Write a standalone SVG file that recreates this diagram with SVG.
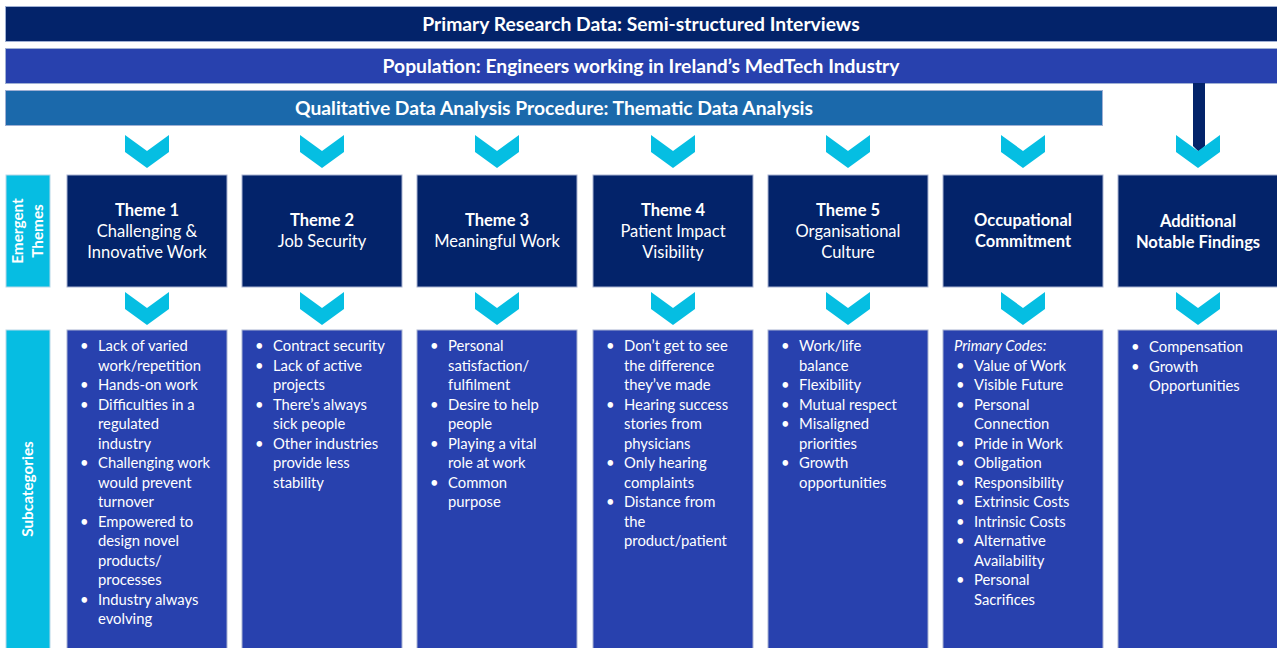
<svg xmlns="http://www.w3.org/2000/svg" xmlns:xlink="http://www.w3.org/1999/xlink" width="1277" height="648" viewBox="0 0 1277 648">
  <style>
    .bar { stroke: #9fb0d4; stroke-width: 1; }
    .theme { fill: #03236a; stroke: #aab4d2; stroke-width: 1; }
    .sub { fill: #2841ae; stroke: #aab4d2; stroke-width: 1; }
    .side { fill: #06bde2; stroke: #b8d8e8; stroke-width: 1; }
    .chev { fill: #05bee2; }
    text { font-family: Lato, "Open Sans", "Liberation Sans", sans-serif; fill: #ffffff; }
    .bartxt { font-size: 19.3px; font-weight: 700; text-anchor: middle; }
    .tb { font-size: 16.5px; font-weight: 700; text-anchor: middle; }
    .tr { font-size: 16.5px; font-weight: 400; text-anchor: middle; }
    .sidetxt { font-size: 15.3px; font-weight: 700; text-anchor: middle; }
    .li { font-size: 14.8px; font-weight: 400; }
    .it { font-size: 14.8px; font-style: italic; }
  </style>
  <defs>
    <polygon id="chevron" points="-22,0 0,16 22,0 22,17 0,33 -22,17"/>
  </defs>

  <!-- header bars -->
  <g id="primary-data">
    <rect class="bar" x="5.5" y="6.5" width="1272" height="35" fill="#03236a"/>
    <text class="bartxt" x="641" y="30.5">Primary Research Data: Semi-structured Interviews</text>
  </g>
  <g id="population">
    <rect class="bar" x="5.5" y="48.5" width="1272" height="35" fill="#2841ae"/>
    <text class="bartxt" x="641" y="72.5">Population: Engineers working in Ireland’s MedTech Industry</text>
  </g>
  <g id="procedure">
    <rect class="bar" x="5.5" y="90.5" width="1097" height="35" fill="#1b69ab"/>
    <text class="bartxt" x="554" y="114.5">Qualitative Data Analysis Procedure: Thematic Data Analysis</text>
  </g>

  <!-- row labels -->
  <g id="label-emergent">
    <rect class="side" x="6" y="175" width="44" height="112"/>
    <text class="sidetxt" transform="translate(28 231) rotate(-90)"><tspan x="0" y="-5">Emergent</tspan><tspan x="0" y="15">Themes</tspan></text>
  </g>
  <g id="label-subcategories">
    <rect class="side" x="6" y="330" width="44" height="320"/>
    <text class="sidetxt" transform="translate(28 489) rotate(-90)" x="0" y="5">Subcategories</text>
  </g>

  <!-- connectors: chevron arrows and the side feed from the population bar -->
  <g id="connectors">
    <polygon points="1193,83 1205,83 1205,146 1199,152 1193,146" fill="#03236a"/>
    <use xlink:href="#chevron" class="chev" x="147" y="135"/>
    <use xlink:href="#chevron" class="chev" x="322" y="135"/>
    <use xlink:href="#chevron" class="chev" x="497" y="135"/>
    <use xlink:href="#chevron" class="chev" x="673" y="135"/>
    <use xlink:href="#chevron" class="chev" x="848" y="135"/>
    <use xlink:href="#chevron" class="chev" x="1023" y="135"/>
    <use xlink:href="#chevron" class="chev" x="1198" y="135"/>
    <use xlink:href="#chevron" class="chev" x="147" y="292"/>
    <use xlink:href="#chevron" class="chev" x="322" y="292"/>
    <use xlink:href="#chevron" class="chev" x="497" y="292"/>
    <use xlink:href="#chevron" class="chev" x="673" y="292"/>
    <use xlink:href="#chevron" class="chev" x="848" y="292"/>
    <use xlink:href="#chevron" class="chev" x="1023" y="292"/>
    <use xlink:href="#chevron" class="chev" x="1198" y="292"/>
  </g>

  <!-- theme boxes -->
  <g id="theme-1">
    <rect class="theme" x="67" y="175" width="160" height="112"/>
    <text class="tb" x="147" y="216">Theme 1</text>
    <text class="tr" x="147" y="237">Challenging &amp;</text>
    <text class="tr" x="147" y="258">Innovative Work</text>
  </g>
  <g id="theme-2">
    <rect class="theme" x="242" y="175" width="160" height="112"/>
    <text class="tb" x="322" y="226">Theme 2</text>
    <text class="tr" x="322" y="247">Job Security</text>
  </g>
  <g id="theme-3">
    <rect class="theme" x="417" y="175" width="160" height="112"/>
    <text class="tb" x="497" y="226">Theme 3</text>
    <text class="tr" x="497" y="247">Meaningful Work</text>
  </g>
  <g id="theme-4">
    <rect class="theme" x="593" y="175" width="160" height="112"/>
    <text class="tb" x="673" y="216">Theme 4</text>
    <text class="tr" x="673" y="237">Patient Impact</text>
    <text class="tr" x="673" y="258">Visibility</text>
  </g>
  <g id="theme-5">
    <rect class="theme" x="768" y="175" width="160" height="112"/>
    <text class="tb" x="848" y="216">Theme 5</text>
    <text class="tr" x="848" y="237">Organisational</text>
    <text class="tr" x="848" y="258">Culture</text>
  </g>
  <g id="occupational-commitment">
    <rect class="theme" x="943" y="175" width="160" height="112"/>
    <text class="tb" x="1023" y="226">Occupational</text>
    <text class="tb" x="1023" y="247">Commitment</text>
  </g>
  <g id="additional-findings">
    <rect class="theme" x="1118" y="175" width="160" height="112"/>
    <text class="tb" x="1198" y="227">Additional</text>
    <text class="tb" x="1198" y="248">Notable Findings</text>
  </g>

  <!-- subcategory lists -->
  <g id="sub-1">
    <rect class="sub" x="67" y="330" width="160" height="320"/>
    <text class="li">
      <tspan x="80" y="351">•</tspan><tspan x="98" y="351">Lack of varied</tspan>
      <tspan x="98" y="370.5">work/repetition</tspan>
      <tspan x="80" y="390">•</tspan><tspan x="98" y="390">Hands-on work</tspan>
      <tspan x="80" y="409.5">•</tspan><tspan x="98" y="409.5">Difficulties in a</tspan>
      <tspan x="98" y="429">regulated</tspan>
      <tspan x="98" y="448.5">industry</tspan>
      <tspan x="80" y="468">•</tspan><tspan x="98" y="468">Challenging work</tspan>
      <tspan x="98" y="487.5">would prevent</tspan>
      <tspan x="98" y="507">turnover</tspan>
      <tspan x="80" y="526.5">•</tspan><tspan x="98" y="526.5">Empowered to</tspan>
      <tspan x="98" y="546">design novel</tspan>
      <tspan x="98" y="565.5">products/</tspan>
      <tspan x="98" y="585">processes</tspan>
      <tspan x="80" y="604.5">•</tspan><tspan x="98" y="604.5">Industry always</tspan>
      <tspan x="98" y="624">evolving</tspan>
    </text>
  </g>
  <g id="sub-2">
    <rect class="sub" x="242" y="330" width="160" height="320"/>
    <text class="li">
      <tspan x="255" y="351">•</tspan><tspan x="273" y="351">Contract security</tspan>
      <tspan x="255" y="370.5">•</tspan><tspan x="273" y="370.5">Lack of active</tspan>
      <tspan x="273" y="390">projects</tspan>
      <tspan x="255" y="409.5">•</tspan><tspan x="273" y="409.5">There’s always</tspan>
      <tspan x="273" y="429">sick people</tspan>
      <tspan x="255" y="448.5">•</tspan><tspan x="273" y="448.5">Other industries</tspan>
      <tspan x="273" y="468">provide less</tspan>
      <tspan x="273" y="487.5">stability</tspan>
    </text>
  </g>
  <g id="sub-3">
    <rect class="sub" x="417" y="330" width="160" height="320"/>
    <text class="li">
      <tspan x="430" y="351">•</tspan><tspan x="448" y="351">Personal</tspan>
      <tspan x="448" y="370.5">satisfaction/</tspan>
      <tspan x="448" y="390">fulfilment</tspan>
      <tspan x="430" y="409.5">•</tspan><tspan x="448" y="409.5">Desire to help</tspan>
      <tspan x="448" y="429">people</tspan>
      <tspan x="430" y="448.5">•</tspan><tspan x="448" y="448.5">Playing a vital</tspan>
      <tspan x="448" y="468">role at work</tspan>
      <tspan x="430" y="487.5">•</tspan><tspan x="448" y="487.5">Common</tspan>
      <tspan x="448" y="507">purpose</tspan>
    </text>
  </g>
  <g id="sub-4">
    <rect class="sub" x="593" y="330" width="160" height="320"/>
    <text class="li">
      <tspan x="606" y="351">•</tspan><tspan x="624" y="351">Don’t get to see</tspan>
      <tspan x="624" y="370.5">the difference</tspan>
      <tspan x="624" y="390">they’ve made</tspan>
      <tspan x="606" y="409.5">•</tspan><tspan x="624" y="409.5">Hearing success</tspan>
      <tspan x="624" y="429">stories from</tspan>
      <tspan x="624" y="448.5">physicians</tspan>
      <tspan x="606" y="468">•</tspan><tspan x="624" y="468">Only hearing</tspan>
      <tspan x="624" y="487.5">complaints</tspan>
      <tspan x="606" y="507">•</tspan><tspan x="624" y="507">Distance from</tspan>
      <tspan x="624" y="526.5">the</tspan>
      <tspan x="624" y="546">product/patient</tspan>
    </text>
  </g>
  <g id="sub-5">
    <rect class="sub" x="768" y="330" width="160" height="320"/>
    <text class="li">
      <tspan x="781" y="351">•</tspan><tspan x="799" y="351">Work/life</tspan>
      <tspan x="799" y="370.5">balance</tspan>
      <tspan x="781" y="390">•</tspan><tspan x="799" y="390">Flexibility</tspan>
      <tspan x="781" y="409.5">•</tspan><tspan x="799" y="409.5">Mutual respect</tspan>
      <tspan x="781" y="429">•</tspan><tspan x="799" y="429">Misaligned</tspan>
      <tspan x="799" y="448.5">priorities</tspan>
      <tspan x="781" y="468">•</tspan><tspan x="799" y="468">Growth</tspan>
      <tspan x="799" y="487.5">opportunities</tspan>
    </text>
  </g>
  <g id="sub-occupational">
    <rect class="sub" x="943" y="330" width="160" height="320"/>
    <text class="it" x="954" y="351">Primary Codes:</text>
    <text class="li">
      <tspan x="956" y="370.5">•</tspan><tspan x="974" y="370.5">Value of Work</tspan>
      <tspan x="956" y="390">•</tspan><tspan x="974" y="390">Visible Future</tspan>
      <tspan x="956" y="409.5">•</tspan><tspan x="974" y="409.5">Personal</tspan>
      <tspan x="974" y="429">Connection</tspan>
      <tspan x="956" y="448.5">•</tspan><tspan x="974" y="448.5">Pride in Work</tspan>
      <tspan x="956" y="468">•</tspan><tspan x="974" y="468">Obligation</tspan>
      <tspan x="956" y="487.5">•</tspan><tspan x="974" y="487.5">Responsibility</tspan>
      <tspan x="956" y="507">•</tspan><tspan x="974" y="507">Extrinsic Costs</tspan>
      <tspan x="956" y="526.5">•</tspan><tspan x="974" y="526.5">Intrinsic Costs</tspan>
      <tspan x="956" y="546">•</tspan><tspan x="974" y="546">Alternative</tspan>
      <tspan x="974" y="565.5">Availability</tspan>
      <tspan x="956" y="585">•</tspan><tspan x="974" y="585">Personal</tspan>
      <tspan x="974" y="604.5">Sacrifices</tspan>
    </text>
  </g>
  <g id="sub-additional">
    <rect class="sub" x="1118" y="330" width="160" height="320"/>
    <text class="li">
      <tspan x="1131" y="352">•</tspan><tspan x="1149" y="352">Compensation</tspan>
      <tspan x="1131" y="371.5">•</tspan><tspan x="1149" y="371.5">Growth</tspan>
      <tspan x="1149" y="391">Opportunities</tspan>
    </text>
  </g>
</svg>
